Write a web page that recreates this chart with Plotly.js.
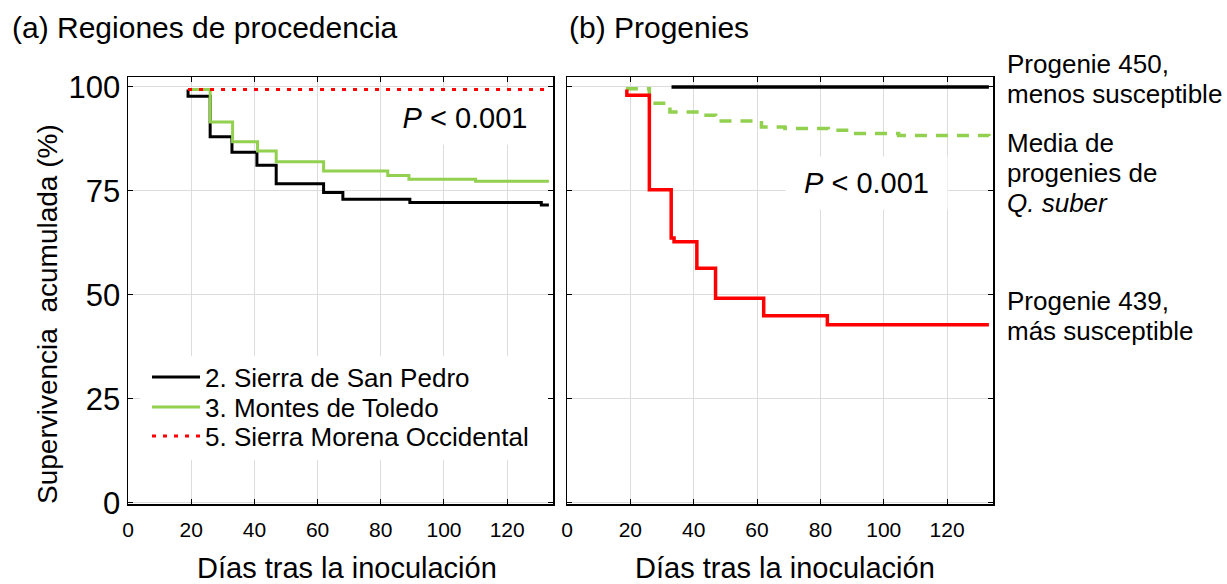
<!DOCTYPE html>
<html><head><meta charset="utf-8">
<script src="https://cdn.plot.ly/plotly-3.0.1.min.js"></script>
<style>html,body{margin:0;padding:0;background:#fff}#chart{width:1227px;height:584px}</style>
</head><body><div id="chart"></div>
<script>
// Panel (a): regiones de procedencia
const daysSanPedro = [19, 19, 26, 32.9, 40.8, 46.9, 61.9, 68, 89.2, 130.8, 133.2];
const survSanPedro = [99.4, 97.8, 88.0, 84.3, 81.2, 76.7, 74.6, 73.0, 72.2, 71.6, 71.6];
const daysToledo = [19, 26, 33.1, 41, 46.9, 61.9, 82.2, 88.9, 110, 133.2];
const survToledo = [99.4, 91.6, 86.8, 84.6, 82.0, 79.8, 78.7, 77.8, 77.3, 77.3];
const daysMorena = [19, 133.2];
const survMorena = [99.4, 99.4];
// Panel (b): progenies
const days450 = [33, 133.2];
const surv450 = [100, 100];
const daysMedia = [18.6, 26, 32.5, 41, 46.9, 61.4, 68.8, 82.5, 89, 104.7, 133.2];
const survMedia = [99.6, 96.1, 94.0, 93.2, 91.8, 90.4, 90.0, 89.6, 88.8, 88.3, 88.2];
const days439 = [18.9, 18.9, 26, 32.9, 33.8, 41, 46.9, 62.1, 82.2, 133.2];
const surv439 = [99.4, 98.0, 75.3, 63.7, 62.8, 56.4, 49.2, 45.0, 42.8, 42.8];

const legendNames = ['2. Sierra de San Pedro', '3. Montes de Toledo', '5. Sierra Morena Occidental'];
const xTicks = [0, 20, 40, 60, 80, 100, 120];
const yTicks = [0, 25, 50, 75, 100];

const W = 1227, H = 584;
const px = v => v / W, py = v => 1 - v / H;
const FONT = 'Arial, "Liberation Sans", sans-serif';
const GREEN = '#92d050';

const traces = [
  {x: daysSanPedro, y: survSanPedro, name: legendNames[0], legend: 'legend', mode: 'lines', line: {shape: 'hv', color: '#000', width: 3}, xaxis: 'x', yaxis: 'y'},
  {x: daysToledo, y: survToledo, name: legendNames[1], legend: 'legend2', mode: 'lines', line: {shape: 'hv', color: GREEN, width: 3}, xaxis: 'x', yaxis: 'y'},
  {x: daysMorena, y: survMorena, name: legendNames[2], legend: 'legend3', mode: 'lines', line: {shape: 'hv', color: '#ff0000', width: 3, dash: '4px,7px'}, xaxis: 'x', yaxis: 'y'},
  {x: days450, y: surv450, showlegend: false, mode: 'lines', line: {shape: 'hv', color: '#000', width: 3.5}, xaxis: 'x2', yaxis: 'y2'},
  {x: daysMedia, y: survMedia, showlegend: false, mode: 'lines', line: {shape: 'hv', color: GREEN, width: 3.5, dash: '12px,9px'}, xaxis: 'x2', yaxis: 'y2'},
  {x: days439, y: surv439, showlegend: false, mode: 'lines', line: {shape: 'hv', color: '#ff0000', width: 3.5}, xaxis: 'x2', yaxis: 'y2'}
];

const xBase = {
  range: [0, 134.5], tickvals: xTicks, showgrid: true, gridcolor: '#dcdcdc', gridwidth: 1,
  ticks: 'inside', ticklen: 5, tickcolor: '#000', mirror: 'ticks', showline: true, linecolor: '#000', linewidth: 1.5,
  zeroline: false, tickfont: {size: 21, color: '#000', family: FONT}, ticklabelstandoff: 6
};
const yBase = {
  range: [-0.3, 102.4], tickvals: yTicks, showgrid: true, gridcolor: '#dcdcdc', gridwidth: 1,
  ticks: 'inside', ticklen: 5, tickcolor: '#000', mirror: 'ticks', showline: true, linecolor: '#000', linewidth: 1.5,
  zeroline: false, tickfont: {size: 31, color: '#000', family: FONT}, domain: [py(504), py(77)]
};

const ann = (text, x, y, size, opts) => Object.assign({text, x: px(x), y: py(y), xref: 'paper', yref: 'paper', showarrow: false, font: {size, color: '#000', family: FONT}, xanchor: 'left', yanchor: 'middle'}, opts || {});
const leg = (yc) => ({x: px(147), y: py(yc), xanchor: 'left', yanchor: 'middle', bgcolor: 'rgba(0,0,0,0)', borderwidth: 0,
  font: {size: 26, color: '#000', family: FONT}, itemwidth: 48});

const layout = {
  width: W, height: H, margin: {l: 0, r: 0, t: 0, b: 0},
  paper_bgcolor: '#fff', plot_bgcolor: '#fff', font: {family: FONT, color: '#000'},
  xaxis: Object.assign({}, xBase, {domain: [px(128), px(553)], anchor: 'y'}),
  yaxis: Object.assign({}, yBase, {anchor: 'x'}),
  xaxis2: Object.assign({}, xBase, {domain: [px(567), px(993)], anchor: 'y2'}),
  yaxis2: Object.assign({}, yBase, {anchor: 'x2', showticklabels: false}),
  showlegend: true,
  legend: leg(377), legend2: leg(407), legend3: leg(436),
  shapes: [],
  annotations: [
    ann('(a) Regiones de procedencia', 10, 27, 30),
    ann('(b) Progenies', 567, 27, 30),
    ann('Días tras la inoculación', 347, 568, 29, {xanchor: 'center'}),
    ann('Días tras la inoculación', 785, 568, 29, {xanchor: 'center'}),
    ann('Supervivencia&nbsp; acumulada (%)', 47, 314, 28, {xanchor: 'center', textangle: -90}),
    ann('<i>P</i> &lt; 0.001', 465, 118, 29, {xanchor: 'center', bgcolor: '#fff', width: 160, height: 50}),
    ann('<i>P</i> &lt; 0.001', 866, 183, 29, {xanchor: 'center', bgcolor: '#fff', width: 159, height: 50}),
    ann('Progenie 450,', 1005, 64, 26),
    ann('menos susceptible', 1005, 94, 26),
    ann('Media de', 1005, 143, 26),
    ann('progenies de', 1005, 173, 26),
    ann('<i>Q. suber</i>', 1005, 203, 26),
    ann('Progenie 439,', 1005, 301, 26),
    ann('más susceptible', 1005, 331, 26)
  ]
};

// white backdrop behind the legend block
layout.shapes.push({type: 'rect', xref: 'paper', yref: 'paper', x0: px(140), x1: px(548), y0: py(460), y1: py(356), fillcolor: '#fff', line: {width: 0}, layer: 'above'});

Plotly.newPlot('chart', traces, layout, {displayModeBar: false, staticPlot: true});
</script></body></html>
